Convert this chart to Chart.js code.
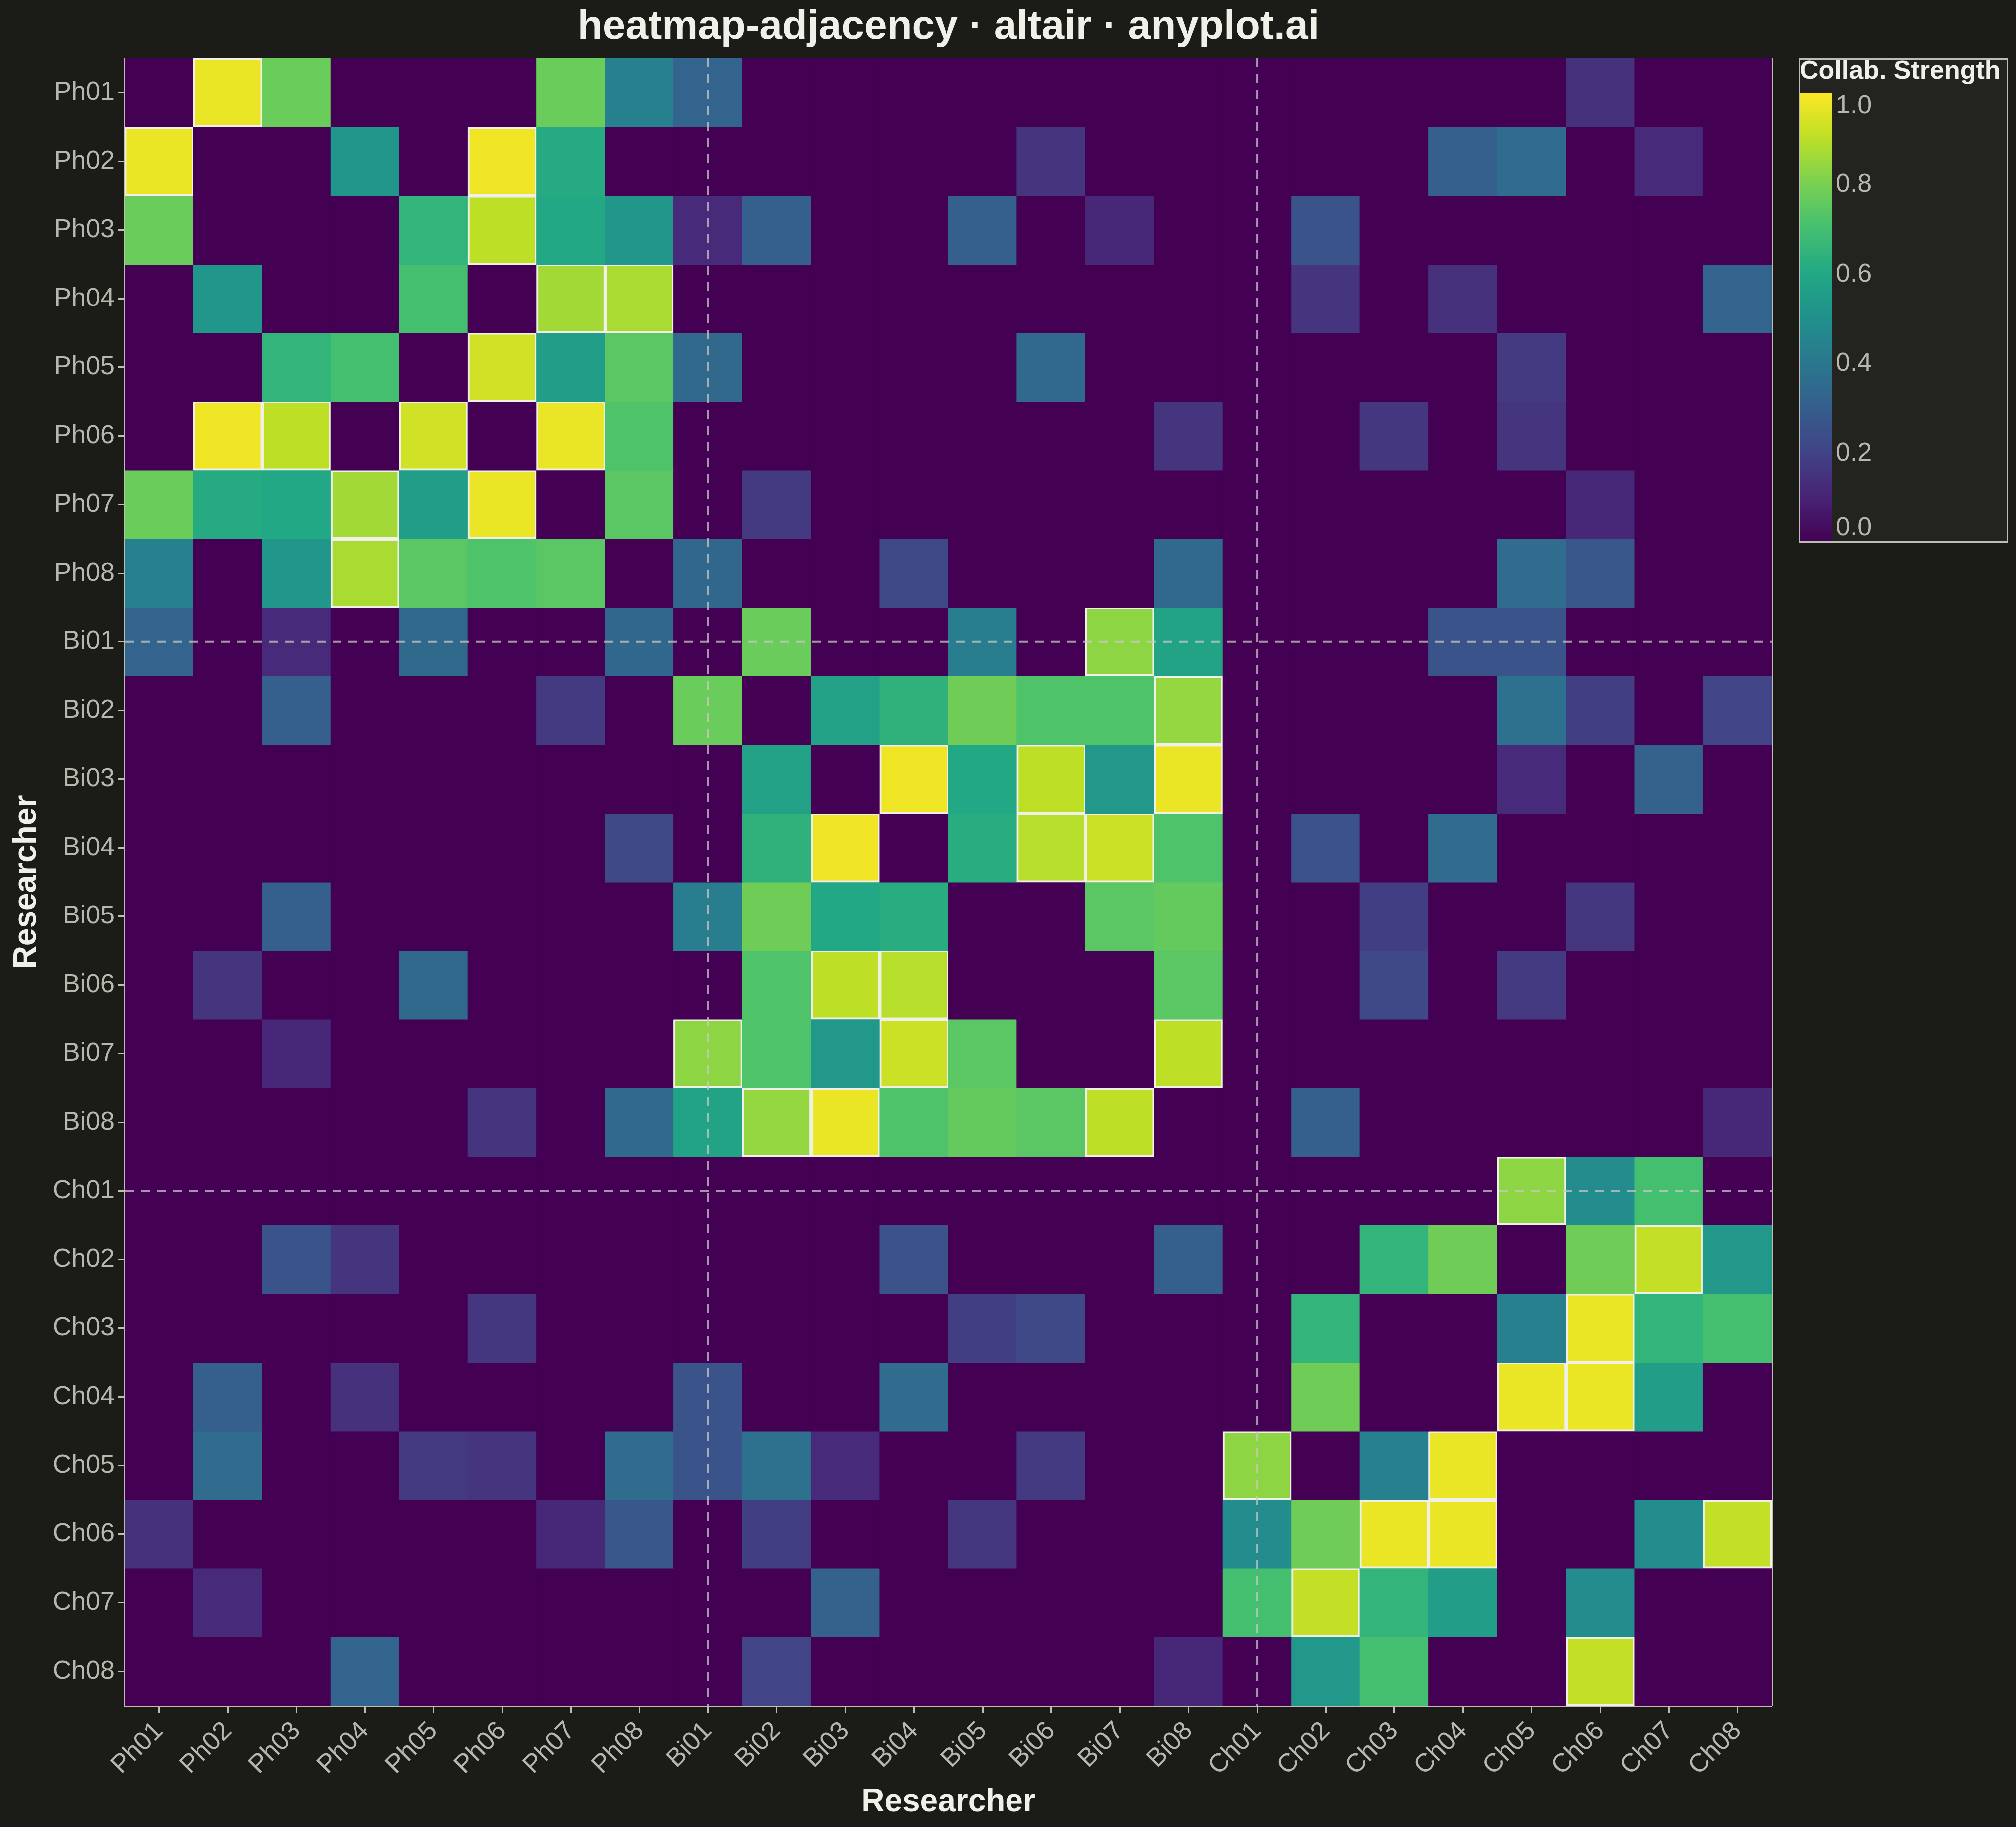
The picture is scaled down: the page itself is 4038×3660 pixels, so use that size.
<!DOCTYPE html>
<html>
<head>
<meta charset="utf-8">
<script src="https://cdn.jsdelivr.net/npm/chart.js@4.4.1/dist/chart.umd.min.js"></script>
<style>
  html, body { margin: 0; padding: 0; background: #1b1c18; }
  #wrap { width: 4038px; height: 3660px; }
</style>
</head>
<body>
<div id="wrap"><canvas id="chart" width="4038" height="3660"></canvas></div>
<script>
const researchers = [
    'Ph01', 'Ph02', 'Ph03', 'Ph04', 'Ph05', 'Ph06', 'Ph07', 'Ph08',
    'Bi01', 'Bi02', 'Bi03', 'Bi04', 'Bi05', 'Bi06', 'Bi07', 'Bi08',
    'Ch01', 'Ch02', 'Ch03', 'Ch04', 'Ch05', 'Ch06', 'Ch07', 'Ch08'
];
const groupStarts = ['Bi01', 'Ch01'];
const legendTicks = [0, 0.2, 0.4, 0.6, 0.8, 1.0];

// collaboration strength, one row per researcher (columns follow `researchers`)
const physicsRows = [
    [0, .97, .77, 0, 0, 0, .77, .43, .32, 0, 0, 0, 0, 0, 0, 0, 0, 0, 0, 0, 0, .14, 0, 0],
    [.97, 0, 0, .52, 0, .98, .61, 0, 0, 0, 0, 0, 0, .15, 0, 0, 0, 0, 0, .30, .35, 0, .12, 0],
    [.77, 0, 0, 0, .65, .90, .60, .52, .12, .30, 0, 0, .30, 0, .11, 0, 0, .26, 0, 0, 0, 0, 0, 0],
    [0, .52, 0, 0, .70, 0, .86, .87, 0, 0, 0, 0, 0, 0, 0, 0, 0, .15, 0, .14, 0, 0, 0, .32],
    [0, 0, .65, .70, 0, .93, .55, .74, .34, 0, 0, 0, 0, .34, 0, 0, 0, 0, 0, 0, .17, 0, 0, 0],
    [0, .98, .90, 0, .93, 0, .97, .72, 0, 0, 0, 0, 0, 0, 0, .15, 0, 0, .16, 0, .15, 0, 0, 0],
    [.77, .61, .60, .86, .55, .97, 0, .74, 0, .17, 0, 0, 0, 0, 0, 0, 0, 0, 0, 0, 0, .11, 0, 0],
    [.43, 0, .52, .87, .74, .72, .74, 0, .33, 0, 0, .22, 0, 0, 0, .34, 0, 0, 0, 0, .35, .27, 0, 0]
];
const biologyRows = [
    [.32, 0, .12, 0, .34, 0, 0, .33, 0, .77, 0, 0, .42, 0, .83, .58, 0, 0, 0, .26, .26, 0, 0, 0],
    [0, 0, .30, 0, 0, 0, .17, 0, .77, 0, .57, .64, .78, .72, .72, .84, 0, 0, 0, 0, .37, .18, 0, .20],
    [0, 0, 0, 0, 0, 0, 0, 0, 0, .57, 0, .98, .60, .90, .53, .97, 0, 0, 0, 0, .12, 0, .31, 0],
    [0, 0, 0, 0, 0, 0, 0, .22, 0, .64, .98, 0, .62, .89, .92, .72, 0, .25, 0, .35, 0, 0, 0, 0],
    [0, 0, .30, 0, 0, 0, 0, 0, .42, .78, .60, .62, 0, 0, .74, .76, 0, 0, .18, 0, 0, .16, 0, 0],
    [0, .15, 0, 0, .34, 0, 0, 0, 0, .72, .90, .89, 0, 0, 0, .74, 0, 0, .22, 0, .17, 0, 0, 0],
    [0, 0, .11, 0, 0, 0, 0, 0, .83, .72, .53, .92, .74, 0, 0, .90, 0, 0, 0, 0, 0, 0, 0, 0],
    [0, 0, 0, 0, 0, .15, 0, .34, .58, .84, .97, .72, .76, .74, .90, 0, 0, .30, 0, 0, 0, 0, 0, .11]
];
const chemistryRows = [
    [0, 0, 0, 0, 0, 0, 0, 0, 0, 0, 0, 0, 0, 0, 0, 0, 0, 0, 0, 0, .83, .48, .70, 0],
    [0, 0, .26, .15, 0, 0, 0, 0, 0, 0, 0, .25, 0, 0, 0, .30, 0, 0, .65, .78, 0, .78, .91, .53],
    [0, 0, 0, 0, 0, .16, 0, 0, 0, 0, 0, 0, .18, .22, 0, 0, 0, .65, 0, 0, .43, .97, .65, .70],
    [0, .30, 0, .14, 0, 0, 0, 0, .26, 0, 0, .35, 0, 0, 0, 0, 0, .78, 0, 0, .97, .97, .55, 0],
    [0, .35, 0, 0, .17, .15, 0, .35, .26, .37, .12, 0, 0, .17, 0, 0, .83, 0, .43, .97, 0, 0, 0, 0],
    [.14, 0, 0, 0, 0, 0, .11, .27, 0, .18, 0, 0, .16, 0, 0, 0, .48, .78, .97, .97, 0, 0, .48, .91],
    [0, .12, 0, 0, 0, 0, 0, 0, 0, 0, .31, 0, 0, 0, 0, 0, .70, .91, .65, .55, 0, .48, 0, 0],
    [0, 0, 0, .32, 0, 0, 0, 0, 0, .20, 0, 0, 0, 0, 0, .11, 0, .53, .70, 0, 0, .91, 0, 0]
];
const strength = [...physicsRows, ...biologyRows, ...chemistryRows];
const highlightFrom = 0.8;

const FONT = "'Liberation Sans', Arial, sans-serif";
const BG = '#1b1c18';
const INK = '#f0efe8';
const MUTED = '#b7b7ad';
const AXIS = '#bdbdb4';

const viridisStops = [
    '#440154', '#482475', '#414487', '#355f8d', '#2a788e', '#21918c',
    '#22a884', '#44bf70', '#7ad151', '#bddf26', '#fde725'
];

function hexToRgb(h) {
    return [parseInt(h.slice(1, 3), 16), parseInt(h.slice(3, 5), 16), parseInt(h.slice(5, 7), 16)];
}

function viridis(t) {
    t = Math.max(0, Math.min(1, t));
    const pos = t * (viridisStops.length - 1);
    const i = Math.min(Math.floor(pos), viridisStops.length - 2);
    const f = pos - i;
    const a = hexToRgb(viridisStops[i]);
    const b = hexToRgb(viridisStops[i + 1]);
    const c = a.map((v, k) => Math.round(v + (b[k] - v) * f));
    return `rgb(${c[0]}, ${c[1]}, ${c[2]})`;
}

const cellValue = (ctx) => (ctx.raw && ctx.raw.v !== undefined ? ctx.raw.v : 0);

const datasets = strength.map((row, r) => ({
    label: researchers[r],
    data: row.map((v, c) => ({ x: researchers[c], y: [r, r + 1], v })),
    backgroundColor: (ctx) => viridis(cellValue(ctx)),
    borderColor: INK,
    borderWidth: (ctx) => (cellValue(ctx) >= highlightFrom ? 4 : 0),
    borderSkipped: false,
    inflateAmount: 0.6,
    grouped: false,
    categoryPercentage: 1,
    barPercentage: 1
}));

const backgroundPlugin = {
    id: 'background',
    beforeDraw(chart) {
        const { ctx, width, height } = chart;
        ctx.save();
        ctx.fillStyle = BG;
        ctx.fillRect(0, 0, width, height);
        ctx.restore();
    }
};

// dashed separators through the first researcher of each field, plus the right frame
const separatorPlugin = {
    id: 'separators',
    afterDatasetsDraw(chart) {
        const { ctx, chartArea, scales } = chart;
        ctx.save();
        ctx.strokeStyle = 'rgba(200, 200, 195, 0.75)';
        ctx.lineWidth = 4;
        ctx.setLineDash([18, 14]);
        groupStarts.forEach((name) => {
            const idx = researchers.indexOf(name);
            const x = scales.x.getPixelForValue(idx);
            const y = scales.y.getPixelForValue(idx + 0.5);
            ctx.beginPath();
            ctx.moveTo(x, chartArea.top);
            ctx.lineTo(x, chartArea.bottom);
            ctx.stroke();
            ctx.beginPath();
            ctx.moveTo(chartArea.left, y);
            ctx.lineTo(chartArea.right, y);
            ctx.stroke();
        });
        ctx.setLineDash([]);
        ctx.strokeStyle = AXIS;
        ctx.lineWidth = 3;
        ctx.beginPath();
        ctx.moveTo(chartArea.right + 1.5, chartArea.top);
        ctx.lineTo(chartArea.right + 1.5, chartArea.bottom);
        ctx.stroke();
        ctx.restore();
    }
};

const colorbarPlugin = {
    id: 'colorbar',
    afterDraw(chart) {
        const { ctx, chartArea } = chart;
        const left = chartArea.right + 54;
        const top = chartArea.top;
        const boxW = 419, boxH = 970;
        const barTop = top + 69, barBottom = top + 968, barW = 66;

        ctx.save();
        ctx.fillStyle = '#232420';
        ctx.fillRect(left, top, boxW, boxH);

        const grad = ctx.createLinearGradient(0, barBottom, 0, barTop);
        viridisStops.forEach((c, i) => grad.addColorStop(i / (viridisStops.length - 1), c));
        ctx.fillStyle = grad;
        ctx.fillRect(left, barTop, barW, barBottom - barTop);

        ctx.strokeStyle = AXIS;
        ctx.lineWidth = 3;
        ctx.strokeRect(left + 1.5, top + 1.5, boxW - 3, boxH - 3);

        ctx.fillStyle = INK;
        ctx.font = `bold 52px ${FONT}`;
        ctx.textAlign = 'left';
        ctx.textBaseline = 'alphabetic';
        ctx.fillText('Collab. Strength', left + 2, top + 41);

        ctx.fillStyle = MUTED;
        ctx.font = `52px ${FONT}`;
        legendTicks.forEach((t, i) => {
            const y = barBottom - t * (barBottom - barTop);
            let base = y + 18;
            if (i === legendTicks.length - 1) base = barTop + 41;
            if (i === 0) base = barBottom - 13;
            ctx.fillText(t.toFixed(1), left + barW + 8, base);
        });
        ctx.restore();
    }
};

new Chart(document.getElementById('chart'), {
    type: 'bar',
    data: { labels: researchers, datasets },
    options: {
        responsive: false,
        devicePixelRatio: 1,
        animation: false,
        layout: { padding: { left: 0, top: 0, right: 489, bottom: 0 } },
        plugins: {
            legend: { display: false },
            tooltip: { enabled: false },
            title: {
                display: true,
                text: 'heatmap-adjacency · altair · anyplot.ai',
                color: INK,
                fullSize: false,
                font: { family: FONT, size: 82, weight: 'bold', lineHeight: 1 },
                padding: { top: 14, bottom: 21 }
            }
        },
        scales: {
            x: {
                type: 'category',
                offset: true,
                afterFit: (axis) => { axis.height = 243; },
                grid: { display: true, drawOnChartArea: false, drawTicks: true, offset: false, tickLength: 14, tickWidth: 3, tickColor: AXIS },
                border: { display: true, color: AXIS, width: 3 },
                ticks: {
                    color: MUTED, autoSkip: false, minRotation: 45, maxRotation: 45, padding: 6,
                    font: { family: FONT, size: 52 }
                },
                title: {
                    display: true, text: 'Researcher', color: INK,
                    font: { family: FONT, size: 64, weight: 'bold', lineHeight: 1 },
                    padding: { top: 0, bottom: 18 }
                }
            },
            y: {
                type: 'linear',
                min: 0,
                max: researchers.length,
                reverse: true,
                afterFit: (axis) => { axis.width = 250; },
                afterBuildTicks: (axis) => {
                    axis.ticks = researchers.map((_, i) => ({ value: i + 0.5 }));
                },
                grid: { display: true, drawOnChartArea: false, drawTicks: true, tickLength: 14, tickWidth: 3, tickColor: AXIS },
                border: { display: true, color: AXIS, width: 3 },
                ticks: {
                    color: MUTED, autoSkip: false, padding: 6,
                    font: { family: FONT, size: 52 },
                    callback: (value) => researchers[Math.floor(value)]
                },
                title: {
                    display: true, text: 'Researcher', color: INK,
                    font: { family: FONT, size: 64, weight: 'bold', lineHeight: 1 },
                    padding: { top: 22, bottom: 0 }
                }
            }
        }
    },
    plugins: [backgroundPlugin, separatorPlugin, colorbarPlugin]
});
</script>
</body>
</html>
